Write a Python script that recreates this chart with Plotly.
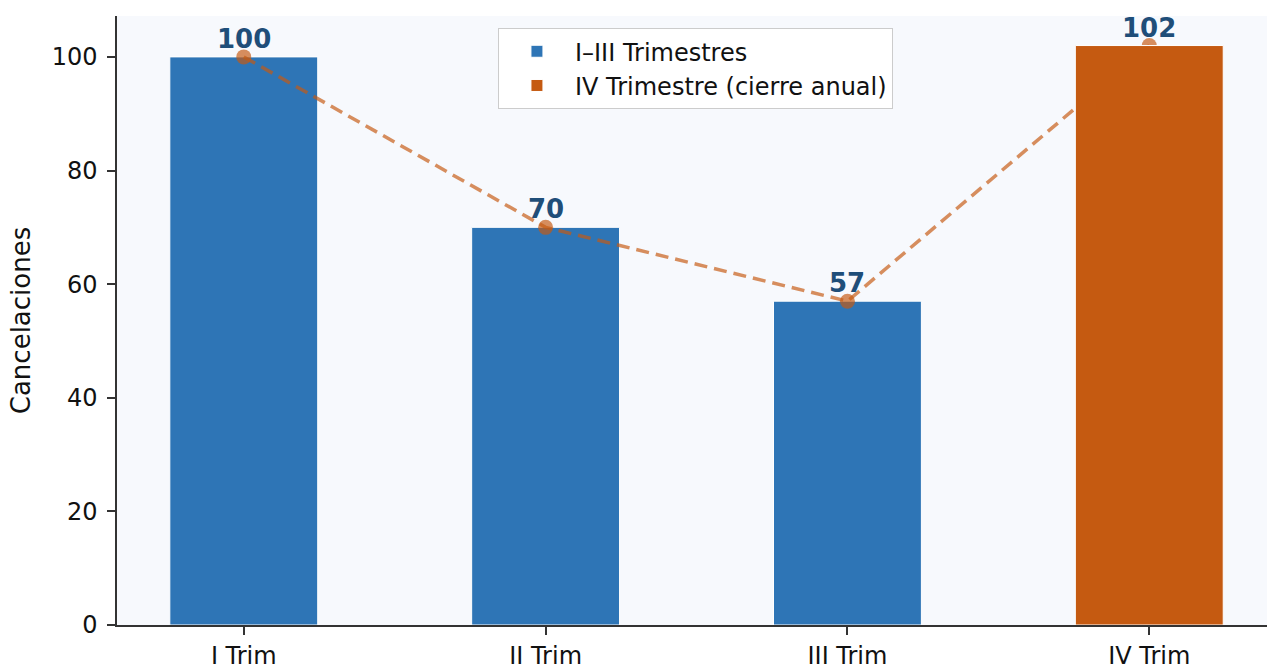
import plotly.graph_objects as go

categories = ["I Trim", "II Trim", "III Trim", "IV Trim"]
values = [100, 70, 57, 102]
series_names = ["I–III Trimestres", "IV Trimestre (cierre anual)"]
y_title = "Cancelaciones"
y_ticks = [0, 20, 40, 60, 80, 100]

blue = "#2e75b6"
orange = "#c55a11"
label_color = "#1f4e79"
font_family = "DejaVu Sans"

fig = go.Figure()

# Blue bars (I-III)
fig.add_trace(go.Bar(
    x=categories[:3], y=values[:3], name=series_names[0],
    marker=dict(color=blue, line=dict(color="white", width=1)),
    width=0.49, xaxis="x", yaxis="y",
))

# Dashed trend line
fig.add_trace(go.Scatter(
    x=categories, y=values, mode="lines+markers",
    line=dict(color="rgba(197,90,17,0.68)", width=3.5, dash="13px,7px"),
    marker=dict(color="rgba(197,90,17,0.68)", size=15),
    showlegend=False, hoverinfo="skip", xaxis="x", yaxis="y",
    cliponaxis=False,
))

# Orange bar (IV) on overlaying axis so it sits above the line
fig.add_trace(go.Bar(
    x=categories[3:], y=values[3:], name=series_names[1],
    marker=dict(color=orange, line=dict(color="white", width=1)),
    width=0.49, xaxis="x", yaxis="y2",
))

# Value labels
for c, v in zip(categories, values):
    fig.add_annotation(
        x=c, y=v, xref="x", yref="y", text=str(v), showarrow=False,
        yanchor="bottom", xanchor="center", yshift=1,
        font=dict(family=font_family, size=26, color=label_color, weight="bold"),
    )

yrange = [0, 107.2]

fig.update_layout(
    width=1267, height=667,
    margin=dict(l=117, r=0, t=16, b=42),
    paper_bgcolor="white",
    plot_bgcolor="#f7f9fd",
    font=dict(family=font_family, size=24, color="#111111"),
    barmode="overlay",
    showlegend=True,
    legend=dict(
        x=0.503, xanchor="center", y=0.98, yanchor="top",
        bgcolor="white", bordercolor="#cccccc", borderwidth=1,
        font=dict(size=24, color="#111111"),
        itemwidth=66, tracegroupgap=2,
    ),
    xaxis=dict(
        type="category", categoryorder="array", categoryarray=categories,
        range=[-0.42, 3.39], showgrid=False, zeroline=False,
        showline=True, linecolor="#333333", linewidth=1.5,
        ticks="outside", ticklen=8, tickwidth=1.5, tickcolor="#333333",
        tickfont=dict(size=24), automargin=False,
    ),
    yaxis=dict(
        range=yrange, showgrid=False, zeroline=False,
        showline=True, linecolor="#333333", linewidth=1.5,
        ticks="outside", ticklen=8, tickwidth=1.5, tickcolor="#333333",
        tickvals=y_ticks, tickfont=dict(size=24), ticklabelstandoff=5,
        title=dict(text=y_title, font=dict(size=26), standoff=14),
        automargin=False,
    ),
    yaxis2=dict(
        range=yrange, overlaying="y", showgrid=False, zeroline=False,
        showticklabels=False, showline=False, ticks="",
    ),
)

fig.write_html(
    "out.html",
    config={"displayModeBar": False},
    post_script="document.body.style.margin='0';document.body.style.overflow='hidden';",
)
